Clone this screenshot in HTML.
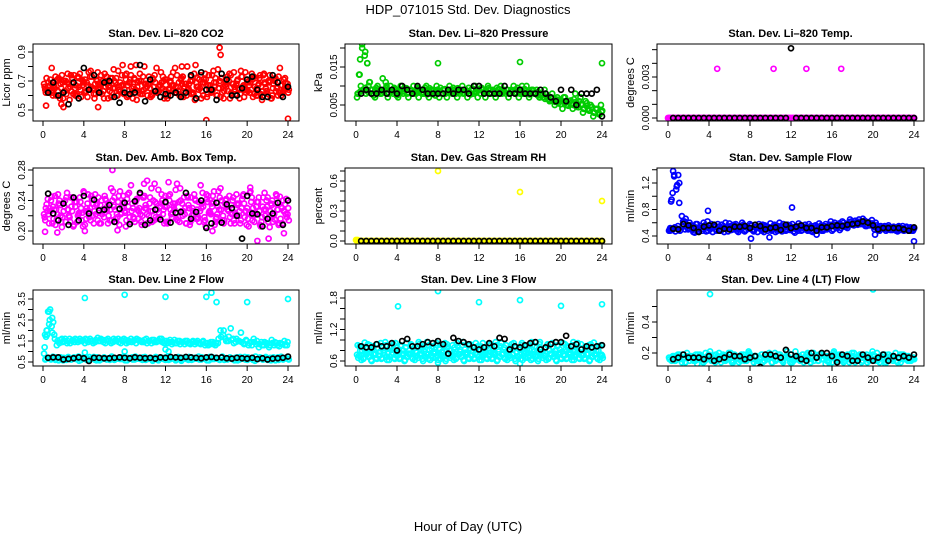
<!DOCTYPE html>
<html><head><meta charset="utf-8"><style>
body{margin:0;background:#fff;}
svg{display:block;font-family:"Liberation Sans",Arial,sans-serif;}
</style></head><body>
<svg id="chart" width="936" height="540" viewBox="0 0 936 540">
<text x="468" y="14" text-anchor="middle" font-size="13">HDP_071015  Std. Dev. Diagnostics</text>
<text x="468" y="531" text-anchor="middle" font-size="13">Hour of Day (UTC)</text>
</svg>
<script>
const colStartHour = 0.1, colEndHour = 23.9;
const blkStartHour = 0.5, blkEndHour = 24;
const xTicks = [0,4,8,12,16,20,24];

const co2Col = [0.68,0.72,0.62,0.79,0.66,0.70,0.60,0.74,0.63,0.69,0.57,0.72,0.65,0.61,0.75,0.67,0.71,0.59,0.73,0.64,0.68,0.76,0.62,0.70,0.66,0.58,0.72,0.65,0.69,0.77,0.63,0.67,0.71,0.60,0.74,0.66,0.81,0.62,0.70,0.64,0.68,0.73,0.61,0.66,0.79,0.63,0.69,0.58,0.71,0.65,0.67,0.62,0.74,0.60,0.68,0.66,0.80,0.63,0.70,0.57,0.72,0.65,0.69,0.75,0.61,0.67,0.64,0.72,0.78,0.59,0.66,0.70,0.63,0.74,0.68,0.61,0.65,0.77,0.67,0.62,0.70,0.64,0.73,0.60,0.68,0.66,0.75,0.63,0.69,0.58,0.71,0.65,0.62,0.67,0.64,0.66];
const co2Col2 = [0.64,0.66,0.71,0.60,0.73,0.63,0.68,0.58,0.70,0.65,0.74,0.61,0.67,0.72,0.59,0.69,0.63,0.76,0.66,0.61,0.71,0.64,0.68,0.58,0.73,0.67,0.62,0.70,0.60,0.66,0.74,0.64,0.59,0.69,0.63,0.71,0.66,0.75,0.61,0.68,0.60,0.65,0.72,0.69,0.62,0.67,0.73,0.64,0.60,0.70,0.76,0.66,0.63,0.71,0.59,0.68,0.65,0.73,0.61,0.69,0.64,0.58,0.71,0.67,0.74,0.62,0.69,0.60,0.65,0.72,0.63,0.68,0.75,0.61,0.66,0.70,0.58,0.73,0.64,0.69,0.62,0.71,0.66,0.60,0.74,0.63,0.68,0.61,0.70,0.65,0.72,0.60,0.67,0.63,0.69,0.62];
const co2Col3 = co2Col.slice().reverse();
const co2Col4 = co2Col2.slice().reverse();
const co2OutX = [17.3,17.4,16.0,24.0,0.3,1.8,2.0,5.4,13.6,7.8,8.6];
const co2OutY = [0.93,0.88,0.43,0.44,0.53,0.54,0.52,0.52,0.80,0.81,0.80];
const co2Blk = [0.62,0.69,0.60,0.62,0.54,0.69,0.58,0.79,0.64,0.74,0.62,0.69,0.70,0.59,0.55,0.62,0.61,0.62,0.81,0.56,0.71,0.63,0.59,0.61,0.60,0.62,0.59,0.62,0.74,0.58,0.76,0.64,0.64,0.57,0.75,0.71,0.60,0.60,0.65,0.71,0.73,0.64,0.59,0.59,0.74,0.69,0.59,0.66];

const presCol = [0.007,0.013,0.020,0.018,0.016,0.011,0.009,0.007,0.010,0.008,0.012,0.009,0.007,0.010,0.008,0.009,0.007,0.010,0.008,0.009,0.007,0.009,0.010,0.008,0.007,0.009,0.008,0.010,0.007,0.009,0.008,0.010,0.007,0.008,0.009,0.007,0.010,0.008,0.009,0.007,0.008,0.010,0.009,0.007,0.008,0.009,0.010,0.007,0.008,0.009,0.007,0.010,0.008,0.009,0.007,0.008,0.010,0.009,0.008,0.007,0.009,0.010,0.008,0.007,0.009,0.008,0.010,0.007,0.009,0.008,0.009,0.007,0.008,0.009,0.007,0.006,0.008,0.005,0.007,0.006,0.004,0.007,0.005,0.006,0.004,0.008,0.005,0.007,0.003,0.006,0.004,0.005,0.002,0.004,0.003,0.005];
const presCol2 = [0.008,0.010,0.009,0.008,0.010,0.009,0.0075,0.0095,0.0085,0.0080,0.0090,0.0100,0.0080,0.0085,0.0095,0.0075,0.0090,0.0085,0.0095,0.0080,0.0090,0.0080,0.0085,0.0095,0.0090,0.0080,0.0095,0.0085,0.0080,0.0090,0.0075,0.0085,0.0095,0.0090,0.0080,0.0085,0.0090,0.0095,0.0080,0.0085,0.0090,0.0080,0.0085,0.0095,0.0090,0.0080,0.0085,0.0090,0.0095,0.0080,0.0085,0.0090,0.0080,0.0085,0.0095,0.0090,0.0080,0.0085,0.0090,0.0080,0.0085,0.0090,0.0095,0.0080,0.0085,0.0090,0.0080,0.0085,0.0090,0.0080,0.0085,0.0075,0.0070,0.0080,0.0065,0.0070,0.0060,0.0065,0.0055,0.0060,0.0070,0.0050,0.0060,0.0055,0.0065,0.0045,0.0060,0.0050,0.0040,0.0055,0.0035,0.0045,0.0030,0.0040,0.0025,0.0035];
const presCol3 = [0.0080,0.0085,0.0090,0.0095,0.0085,0.0090,0.0080,0.0088,0.0092,0.0082,0.0086,0.0094,0.0080,0.0088,0.0092,0.0084,0.0078,0.0090,0.0086,0.0094,0.0082,0.0088,0.0080,0.0092,0.0086,0.0084,0.0090,0.0078,0.0094,0.0086,0.0082,0.0090,0.0088,0.0080,0.0092,0.0084,0.0086,0.0090,0.0080,0.0094,0.0088,0.0082,0.0090,0.0086,0.0078,0.0092,0.0084,0.0088,0.0080,0.0090,0.0086,0.0094,0.0082,0.0088,0.0080,0.0092,0.0084,0.0086,0.0090,0.0080,0.0088,0.0082,0.0090,0.0086,0.0080,0.0092,0.0084,0.0078,0.0088,0.0082,0.0076,0.0070,0.0078,0.0066,0.0072,0.0062,0.0068,0.0058,0.0064,0.0052,0.0060,0.0056,0.0048,0.0062,0.0050,0.0058,0.0044,0.0052,0.0040,0.0048,0.0036,0.0044,0.0030,0.0038,0.0026,0.0032];
const presOutX = [0.3,0.4,0.6,0.9,1.1,1.3,2.9,8.0,16.0,24.0,16.2];
const presOutY = [0.013,0.017,0.021,0.019,0.016,0.011,0.011,0.016,0.0163,0.016,0.010];
const presBlk = [0.008,0.009,0.008,0.008,0.009,0.008,0.009,0.008,0.010,0.009,0.008,0.010,0.009,0.008,0.008,0.008,0.008,0.009,0.008,0.009,0.009,0.008,0.010,0.010,0.008,0.008,0.008,0.008,0.010,0.008,0.008,0.009,0.008,0.008,0.008,0.009,0.008,0.007,0.006,0.009,0.006,0.009,0.005,0.008,0.008,0.008,0.009,0.002];

const tempCol = [0,0,0,0,0,0,0,0,0,0,0,0,0,0,0,0,0,0,0,0,0,0,0,0,0,0,0,0,0,0,0,0,0,0,0,0,0,0,0,0,0,0,0,0,0,0,0,0,0,0,0,0,0,0,0,0,0,0,0,0,0,0,0,0,0,0,0,0,0,0,0,0,0,0,0,0,0,0,0,0,0,0,0,0,0,0,0,0,0,0,0,0,0,0,0,0];
const tempOutX = [4.8,10.3,13.5,16.9,0.0,0.15];
const tempOutY = [0.0036,0.0036,0.0036,0.0036,0,0];
const tempBlk = [0,0,0,0,0,0,0,0,0,0,0,0,0,0,0,0,0,0,0,0,0,0,0,0.0051,0,0,0,0,0,0,0,0,0,0,0,0,0,0,0,0,0,0,0,0,0,0,0,0];

const ambCol = [0.222,0.235,0.210,0.245,0.228,0.215,0.240,0.205,0.232,0.250,0.218,0.226,0.238,0.212,0.244,0.224,0.208,0.236,0.230,0.220,0.248,0.214,0.234,0.226,0.242,0.210,0.228,0.252,0.216,0.238,0.222,0.246,0.206,0.232,0.260,0.218,0.240,0.226,0.212,0.244,0.230,0.220,0.256,0.214,0.236,0.224,0.248,0.210,0.232,0.240,0.218,0.228,0.262,0.212,0.236,0.222,0.246,0.208,0.230,0.242,0.216,0.226,0.250,0.214,0.238,0.224,0.246,0.212,0.232,0.256,0.220,0.240,0.228,0.210,0.244,0.222,0.236,0.214,0.248,0.226,0.206,0.238,0.220,0.232,0.244,0.212,0.228,0.240,0.218,0.234,0.222,0.246,0.210,0.230,0.226,0.218];
const ambCol2 = [0.214,0.242,0.226,0.232,0.208,0.248,0.220,0.236,0.212,0.228,0.244,0.206,0.238,0.222,0.230,0.252,0.216,0.226,0.246,0.210,0.234,0.224,0.240,0.218,0.228,0.236,0.214,0.244,0.222,0.208,0.232,0.226,0.242,0.218,0.236,0.212,0.228,0.248,0.220,0.230,0.210,0.244,0.226,0.238,0.216,0.232,0.222,0.246,0.212,0.228,0.236,0.254,0.218,0.240,0.226,0.210,0.234,0.244,0.222,0.216,0.238,0.230,0.212,0.248,0.224,0.236,0.252,0.218,0.228,0.240,0.214,0.232,0.246,0.222,0.210,0.236,0.226,0.242,0.218,0.230,0.250,0.214,0.224,0.238,0.208,0.232,0.220,0.244,0.226,0.212,0.236,0.228,0.216,0.240,0.222,0.230];
const ambCol3 = ambCol.slice().reverse();
const ambCol4 = ambCol2.slice().reverse();
const ambOutX = [6.8,10.2,9.9,12.3,20.3,21.0,22.1,0.2,1.4,4.1,7.3,23.6,16.6];
const ambOutY = [0.280,0.266,0.262,0.264,0.257,0.187,0.190,0.199,0.198,0.200,0.201,0.197,0.200];
const ambBlk = [0.249,0.223,0.214,0.236,0.208,0.244,0.214,0.246,0.223,0.241,0.227,0.228,0.234,0.212,0.229,0.237,0.209,0.239,0.250,0.208,0.214,0.228,0.215,0.238,0.211,0.224,0.225,0.250,0.216,0.225,0.240,0.204,0.210,0.237,0.211,0.235,0.230,0.220,0.190,0.246,0.223,0.222,0.206,0.216,0.223,0.237,0.208,0.240];

const rhCol = [0,0,0,0,0,0,0,0,0,0,0,0,0,0,0,0,0,0,0,0,0,0,0,0,0,0,0,0,0,0,0,0,0,0,0,0,0,0,0,0,0,0,0,0,0,0,0,0,0,0,0,0,0,0,0,0,0,0,0,0,0,0,0,0,0,0,0,0,0,0,0,0,0,0,0,0,0,0,0,0,0,0,0,0,0,0,0,0,0,0,0,0,0,0,0,0];
const rhOutX = [8.0,16.0,24.0,0.0,0.15];
const rhOutY = [0.70,0.49,0.40,0.01,0.01];
const rhBlk = [0,0,0,0,0,0,0,0,0,0,0,0,0,0,0,0,0,0,0,0,0,0,0,0,0,0,0,0,0,0,0,0,0,0,0,0,0,0,0,0,0,0,0,0,0,0,0,0];

const sfCol = [0.48,0.95,1.30,1.15,1.20,0.70,0.62,0.55,0.60,0.50,0.45,0.58,0.52,0.48,0.56,0.62,0.50,0.46,0.54,0.58,0.49,0.52,0.60,0.47,0.55,0.50,0.58,0.46,0.53,0.57,0.49,0.52,0.56,0.47,0.54,0.58,0.50,0.46,0.55,0.52,0.48,0.57,0.51,0.60,0.47,0.53,0.49,0.56,0.58,0.45,0.52,0.55,0.49,0.57,0.48,0.53,0.46,0.56,0.50,0.54,0.48,0.58,0.52,0.62,0.50,0.55,0.57,0.52,0.60,0.54,0.58,0.62,0.56,0.60,0.65,0.58,0.62,0.55,0.60,0.64,0.50,0.56,0.48,0.52,0.55,0.50,0.53,0.49,0.52,0.47,0.51,0.55,0.49,0.50,0.53,0.48];
const sfCol2 = [0.52,0.50,0.47,0.55,0.49,0.62,0.66,0.50,0.56,0.46,0.58,0.50,0.55,0.60,0.47,0.52,0.58,0.54,0.48,0.50,0.57,0.46,0.53,0.59,0.50,0.56,0.48,0.52,0.60,0.47,0.55,0.58,0.49,0.53,0.46,0.51,0.57,0.54,0.48,0.59,0.53,0.46,0.55,0.50,0.58,0.48,0.56,0.51,0.47,0.55,0.59,0.48,0.53,0.50,0.58,0.47,0.55,0.52,0.59,0.48,0.55,0.50,0.57,0.48,0.60,0.52,0.49,0.62,0.56,0.52,0.65,0.58,0.63,0.57,0.60,0.66,0.55,0.61,0.58,0.55,0.60,0.50,0.55,0.51,0.48,0.56,0.50,0.54,0.48,0.55,0.52,0.48,0.54,0.51,0.48,0.52];
const sfCol3 = [0.50,0.49,0.53,0.51,0.48,0.54,0.50,0.52,0.56,0.49,0.53,0.47,0.55,0.51,0.54,0.48,0.52,0.56,0.50,0.54,0.48,0.55,0.51,0.53,0.49,0.57,0.52,0.50,0.55,0.48,0.53,0.51,0.56,0.49,0.54,0.52,0.48,0.56,0.51,0.53,0.50,0.55,0.48,0.52,0.54,0.50,0.57,0.49,0.53,0.51,0.48,0.56,0.52,0.54,0.50,0.55,0.49,0.53,0.51,0.56,0.50,0.54,0.52,0.55,0.57,0.53,0.59,0.56,0.54,0.58,0.61,0.57,0.59,0.62,0.58,0.60,0.63,0.57,0.56,0.59,0.53,0.52,0.50,0.54,0.51,0.53,0.49,0.52,0.50,0.54,0.49,0.51,0.53,0.48,0.52,0.50];
const sfOutX = [0.3,0.45,0.5,0.6,0.8,0.9,1.0,1.1,3.9,12.1,8.1,9.9,24.0,14.5,20.2,0.2];
const sfOutY = [0.92,1.05,1.38,1.32,1.10,1.17,1.32,0.90,0.78,0.83,0.36,0.38,0.32,0.42,0.42,0.48];
const sfBlk = [0.51,0.50,0.58,0.56,0.52,0.46,0.54,0.56,0.57,0.48,0.51,0.50,0.54,0.54,0.55,0.52,0.57,0.55,0.50,0.52,0.53,0.49,0.57,0.52,0.54,0.56,0.52,0.52,0.48,0.53,0.53,0.55,0.56,0.55,0.57,0.58,0.59,0.62,0.60,0.56,0.50,0.52,0.52,0.52,0.52,0.50,0.48,0.53];

const l2Col = [0.9,2.0,2.9,2.2,1.8,1.3,1.4,1.6,1.5,1.4,1.6,1.5,1.45,1.55,1.6,1.5,1.4,1.55,1.6,1.5,1.45,1.65,1.5,1.55,1.4,1.6,1.5,1.45,1.55,1.6,1.4,1.5,1.55,1.45,1.6,1.5,1.4,1.55,1.5,1.45,1.6,1.5,1.4,1.55,1.45,1.5,1.6,1.4,1.5,1.45,1.35,1.55,1.4,1.5,1.45,1.35,1.5,1.4,1.45,1.35,1.5,1.4,1.45,1.3,1.4,1.35,1.45,1.3,1.4,2.0,1.8,1.6,1.5,2.1,1.6,1.45,1.5,1.9,1.4,1.55,1.3,1.45,1.6,1.35,1.2,1.45,1.3,1.4,1.2,1.55,1.3,1.4,1.25,1.35,1.5,1.3];
const l2Col2 = [0.62,0.70,0.65,0.75,0.60,0.68,0.72,0.58,0.66,0.74,0.62,0.70,0.64,0.76,0.60,0.68,0.72,0.62,0.66,0.74,0.58,0.70,0.64,0.72,0.62,0.68,0.76,0.60,0.66,0.70,0.64,0.74,0.58,0.68,0.72,0.62,0.66,0.70,0.60,0.74,0.64,0.68,0.56,0.72,0.62,0.66,0.70,0.60,0.72,0.64,0.68,0.58,0.74,0.62,0.70,0.66,0.60,0.72,0.64,0.68,0.76,0.62,0.66,0.70,0.58,0.74,0.64,0.68,0.62,0.72,0.60,0.66,0.70,0.64,0.58,0.72,0.62,0.68,0.74,0.60,0.66,0.70,0.56,0.64,0.72,0.62,0.68,0.60,0.70,0.64,0.58,0.72,0.66,0.62,0.70,0.64];
const l2Col3 = [1.2,1.8,2.5,1.9,1.6,1.5,1.55,1.45,1.6,1.5,1.4,1.55,1.6,1.45,1.5,1.55,1.6,1.45,1.5,1.4,1.55,1.5,1.6,1.45,1.55,1.5,1.4,1.6,1.5,1.45,1.55,1.6,1.4,1.5,1.45,1.55,1.6,1.5,1.45,1.55,1.4,1.5,1.55,1.45,1.5,1.6,1.45,1.5,1.4,1.55,1.45,1.4,1.5,1.35,1.45,1.5,1.4,1.35,1.5,1.45,1.4,1.35,1.5,1.4,1.3,1.45,1.35,1.4,1.6,1.7,2.0,1.5,1.7,1.55,1.4,1.6,1.5,1.45,1.35,1.5,1.4,1.3,1.45,1.5,1.35,1.3,1.45,1.35,1.3,1.4,1.45,1.3,1.4,1.35,1.3,1.45];
const l2Col4 = l2Col2.slice().reverse();
const l2OutX = [4.1,8.0,12.0,16.0,16.5,17.0,20.0,24.0,0.3,0.5,0.7,0.6,0.9,1.0,4.1,8.0,12.0,12.3,0.4,0.2];
const l2OutY = [3.55,3.70,3.60,3.60,3.80,3.35,3.35,3.50,1.7,2.9,3.0,2.3,2.6,2.4,0.95,1.0,1.1,1.0,2.0,1.8];
const l2Blk = [0.70,0.72,0.72,0.62,0.65,0.68,0.72,0.68,0.55,0.70,0.70,0.68,0.68,0.70,0.72,0.70,0.68,0.72,0.70,0.68,0.70,0.66,0.72,0.70,0.74,0.72,0.70,0.74,0.72,0.70,0.68,0.72,0.74,0.70,0.72,0.68,0.66,0.70,0.68,0.66,0.70,0.64,0.68,0.62,0.66,0.68,0.70,0.76];

const l3Col = [0.72,0.88,0.80,0.95,0.76,0.90,0.84,0.72,0.92,0.78,0.86,0.96,0.74,0.88,0.82,0.94,0.76,0.90,0.80,0.86,0.74,0.92,0.84,0.78,0.96,0.80,0.88,0.74,0.90,0.84,0.78,0.94,0.82,0.76,0.88,0.92,0.80,0.74,0.86,0.94,0.78,0.90,0.82,0.76,0.92,0.86,0.74,0.88,0.80,0.94,0.78,0.84,0.90,0.76,0.96,0.82,0.88,0.74,0.90,0.80,0.86,0.94,0.78,0.84,0.90,0.74,0.88,0.82,0.96,0.78,0.86,0.92,0.76,0.84,0.90,0.80,0.94,0.74,0.88,0.82,0.78,0.92,0.86,0.76,0.90,0.80,0.94,0.84,0.74,0.88,0.82,0.92,0.78,0.86,0.80,0.90];
const l3Col2 = [0.66,0.70,0.64,0.74,0.68,0.62,0.72,0.66,0.70,0.64,0.76,0.68,0.62,0.72,0.66,0.70,0.64,0.74,0.60,0.68,0.72,0.66,0.62,0.70,0.74,0.64,0.68,0.72,0.62,0.66,0.76,0.70,0.64,0.68,0.60,0.72,0.66,0.70,0.64,0.74,0.68,0.62,0.72,0.66,0.70,0.64,0.76,0.68,0.62,0.72,0.66,0.70,0.64,0.74,0.60,0.68,0.72,0.66,0.62,0.70,0.74,0.64,0.68,0.72,0.62,0.66,0.76,0.70,0.64,0.68,0.60,0.72,0.66,0.70,0.64,0.74,0.68,0.62,0.72,0.66,0.70,0.64,0.76,0.68,0.62,0.72,0.66,0.70,0.64,0.74,0.60,0.68,0.72,0.66,0.62,0.70];
const l3Col3 = l3Col.slice().reverse();
const l3Col4 = l3Col2.slice().reverse();
const l3OutX = [4.1,8.0,12.0,16.0,20.0,24.0,16.0,8.0];
const l3OutY = [1.64,1.93,1.72,1.76,1.65,1.68,0.55,0.57];
const l3Blk = [0.88,0.86,0.86,0.92,0.88,0.88,0.94,0.80,0.98,1.02,0.88,0.88,0.92,0.96,0.94,0.98,0.92,0.74,1.04,0.98,0.96,0.92,0.86,0.82,0.86,0.94,0.88,1.04,1.02,0.82,0.88,0.86,0.90,0.94,0.96,0.82,0.86,0.92,0.96,0.96,1.08,0.88,0.92,0.82,0.88,0.86,0.88,0.90];

const l4Col = [0.17,0.15,0.18,0.16,0.19,0.14,0.17,0.20,0.15,0.18,0.16,0.13,0.19,0.17,0.15,0.18,0.21,0.16,0.14,0.18,0.17,0.19,0.15,0.16,0.20,0.14,0.18,0.17,0.15,0.19,0.16,0.21,0.17,0.14,0.18,0.16,0.19,0.15,0.17,0.20,0.14,0.18,0.16,0.19,0.15,0.17,0.21,0.16,0.14,0.18,0.17,0.15,0.19,0.16,0.20,0.14,0.17,0.18,0.15,0.19,0.16,0.13,0.18,0.17,0.20,0.15,0.16,0.19,0.14,0.18,0.17,0.15,0.20,0.16,0.18,0.14,0.17,0.19,0.15,0.16,0.18,0.20,0.14,0.17,0.19,0.15,0.16,0.18,0.17,0.14,0.19,0.16,0.18,0.15,0.17,0.16];
const l4Col2 = [0.16,0.18,0.15,0.19,0.17,0.16,0.14,0.18,0.17,0.15,0.19,0.16,0.18,0.14,0.17,0.19,0.15,0.18,0.16,0.20,0.17,0.15,0.18,0.16,0.14,0.19,0.17,0.16,0.18,0.15,0.17,0.19,0.16,0.18,0.15,0.17,0.14,0.19,0.16,0.18,0.17,0.15,0.19,0.16,0.14,0.18,0.17,0.19,0.15,0.16,0.18,0.17,0.14,0.19,0.16,0.18,0.15,0.17,0.19,0.16,0.18,0.15,0.17,0.14,0.19,0.16,0.18,0.17,0.15,0.19,0.16,0.18,0.14,0.17,0.19,0.15,0.18,0.16,0.17,0.19,0.15,0.16,0.18,0.17,0.14,0.19,0.16,0.18,0.15,0.17,0.19,0.16,0.18,0.15,0.17,0.16];
const l4Col3 = l4Col.slice().reverse();
const l4OutX = [4.1,12.0,20.0];
const l4OutY = [0.58,0.76,0.61];
const l4Blk = [0.16,0.17,0.19,0.17,0.17,0.17,0.16,0.18,0.15,0.16,0.17,0.19,0.18,0.18,0.16,0.17,0.18,0.11,0.19,0.19,0.18,0.17,0.22,0.19,0.18,0.16,0.15,0.20,0.17,0.20,0.20,0.18,0.14,0.19,0.18,0.15,0.15,0.19,0.17,0.15,0.17,0.19,0.15,0.18,0.17,0.18,0.17,0.19];

const colsX = [[33,299,43,288],[345,612,356,602],[657,924,668,914]];
const rowsY = [[44,121],[168,244],[290,366]];
const panels = [
 {name:'co2',title:'Stan. Dev. Li\u2013820 CO2',ylab:'Licor ppm',col:0,row:0,color:'#ff0000',dom:[0.5,0.9],px:[110,52],ticks:[0.5,0.6,0.7,0.8,0.9],labels:['0.5','0.7','0.9'],labelVals:[0.5,0.7,0.9],series:[co2Col,co2Col2,co2Col3,co2Col4],ox:co2OutX,oy:co2OutY,blk:co2Blk},
 {name:'pressure',title:'Stan. Dev. Li\u2013820 Pressure',ylab:'kPa',col:1,row:0,color:'#00cc00',dom:[0.005,0.015],px:[105,67],ticks:[0.005,0.010,0.015,0.020],labels:['0.005','0.015'],labelVals:[0.005,0.015],series:[presCol,presCol2,presCol3],ox:presOutX,oy:presOutY,blk:presBlk},
 {name:'li820-temp',title:'Stan. Dev. Li\u2013820 Temp.',ylab:'degrees C',col:2,row:0,color:'#ff00ff',dom:[0,0.003],px:[118,77],ticks:[0,0.001,0.002,0.003,0.004,0.005],labels:['0.000','0.003'],labelVals:[0,0.003],series:[tempCol,tempCol],ox:tempOutX,oy:tempOutY,blk:tempBlk},
 {name:'amb-box-temp',title:'Stan. Dev. Amb. Box Temp.',ylab:'degrees C',col:0,row:1,color:'#ff00ff',dom:[0.20,0.28],px:[231,170],ticks:[0.20,0.22,0.24,0.26,0.28],labels:['0.20','0.24','0.28'],labelVals:[0.20,0.24,0.28],series:[ambCol,ambCol2,ambCol3,ambCol4],ox:ambOutX,oy:ambOutY,blk:ambBlk},
 {name:'gas-rh',title:'Stan. Dev. Gas Stream RH',ylab:'percent',col:1,row:1,color:'#ffff00',dom:[0,0.6],px:[241,181],ticks:[0,0.1,0.2,0.3,0.4,0.5,0.6,0.7],labels:['0.0','0.3','0.6'],labelVals:[0,0.3,0.6],series:[rhCol,rhCol],ox:rhOutX,oy:rhOutY,blk:rhBlk},
 {name:'sample-flow',title:'Stan. Dev. Sample Flow',ylab:'ml/min',col:2,row:1,color:'#0000ff',dom:[0.4,1.2],px:[236,183],ticks:[0.4,0.6,0.8,1.0,1.2,1.4],labels:['0.4','0.8','1.2'],labelVals:[0.4,0.8,1.2],series:[sfCol,sfCol2,sfCol3],ox:sfOutX,oy:sfOutY,blk:sfBlk},
 {name:'line2-flow',title:'Stan. Dev. Line 2 Flow',ylab:'ml/min',col:0,row:2,color:'#00ffff',dom:[0.5,3.5],px:[362,299],ticks:[0.5,1.0,1.5,2.0,2.5,3.0,3.5],labels:['0.5','1.5','2.5','3.5'],labelVals:[0.5,1.5,2.5,3.5],series:[l2Col,l2Col2,l2Col3,l2Col4],ox:l2OutX,oy:l2OutY,blk:l2Blk},
 {name:'line3-flow',title:'Stan. Dev. Line 3 Flow',ylab:'ml/min',col:1,row:2,color:'#00ffff',dom:[0.6,1.8],px:[361,298],ticks:[0.6,0.8,1.0,1.2,1.4,1.6,1.8],labels:['0.6','1.2','1.8'],labelVals:[0.6,1.2,1.8],series:[l3Col,l3Col2,l3Col3,l3Col4],ox:l3OutX,oy:l3OutY,blk:l3Blk},
 {name:'line4-flow',title:'Stan. Dev. Line 4 (LT) Flow',ylab:'ml/min',col:2,row:2,color:'#00ffff',dom:[0.2,0.4],px:[353,322],ticks:[0.2,0.3,0.4,0.5],labels:['0.2','0.4'],labelVals:[0.2,0.4],series:[l4Col,l4Col2,l4Col3],ox:l4OutX,oy:l4OutY,blk:l4Blk}
];

const NS='http://www.w3.org/2000/svg';
const svg=document.getElementById('chart');
function mk(tag,attrs,parent){const e=document.createElementNS(NS,tag);for(const k in attrs)e.setAttribute(k,attrs[k]);(parent||svg).appendChild(e);return e;}
const seriesShift=[0,0.12,0.06,0.18];

panels.forEach(p=>{
  const [bl,br,x0,x24]=colsX[p.col];
  const [bt,bb]=rowsY[p.row];
  const g=mk('g',{});
  
  
  const xs=h=>x0+(h/24)*(x24-x0);
  const ys=v=>p.px[0]+(v-p.dom[0])/(p.dom[1]-p.dom[0])*(p.px[1]-p.px[0]);
  const clip=mk('clipPath',{id:'clip-'+p.name},g);
  mk('rect',{x:bl,y:bt,width:br-bl,height:bb-bt},clip);
  const t=mk('text',{x:(bl+br)/2,y:bt-7,'text-anchor':'middle','font-size':'11','font-weight':'bold'},g);
  t.textContent=p.title;
  
  
  const yl=mk('text',{transform:`translate(${bl-23},${(bt+bb)/2}) rotate(-90)`,'text-anchor':'middle','font-size':'11'},g);
  yl.textContent=p.ylab;
  
  
  const pts=mk('g',{'clip-path':`url(#clip-${p.name})`,fill:'none','stroke-width':'1.7'},g);
  
  
  p.series.forEach((arr,si)=>{
    const n=arr.length;
    arr.forEach((v,i)=>{
      const h=colStartHour+i*(colEndHour-colStartHour)/(n-1)+seriesShift[si%4];
      const c=mk('circle',{cx:xs(h),cy:ys(v),r:2.5,stroke:p.color},pts);
      
      
    });
  });
  p.ox.forEach((h,i)=>{
    const c=mk('circle',{cx:xs(h),cy:ys(p.oy[i]),r:2.5,stroke:p.color},pts);
    
    
  });
  const nb=p.blk.length;
  p.blk.forEach((v,i)=>{
    const h=blkStartHour+i*(blkEndHour-blkStartHour)/(nb-1);
    const c=mk('circle',{cx:xs(h),cy:ys(v),r:2.5,stroke:'#000'},pts);
    
    
  });
  const box=mk('rect',{x:bl,y:bt,width:br-bl,height:bb-bt,fill:'none',stroke:'#000','stroke-width':'1'},g);
  
  
  mk('line',{x1:xs(xTicks[0]),x2:xs(xTicks[xTicks.length-1]),y1:bb,y2:bb,stroke:'#000'},g);
  xTicks.forEach(h=>{
    mk('line',{x1:xs(h),x2:xs(h),y1:bb,y2:bb+5,stroke:'#000'},g);
    const tl=mk('text',{x:xs(h),y:bb+17,'text-anchor':'middle','font-size':'10'},g);
    tl.textContent=h;
    
    
  });
  p.ticks.forEach(v=>{
    const y=ys(v);
    if(y<bt-0.5||y>bb+0.5)return;
    mk('line',{x1:bl-5,x2:bl,y1:y,y2:y,stroke:'#000'},g);
  });
  p.labelVals.forEach((v,i)=>{
    const yl2=mk('text',{transform:`translate(${bl-8},${ys(v)}) rotate(-90)`,'text-anchor':'middle','font-size':'10'},g);
    yl2.textContent=p.labels[i];
    
    
  });
});
</script>
</body></html>
